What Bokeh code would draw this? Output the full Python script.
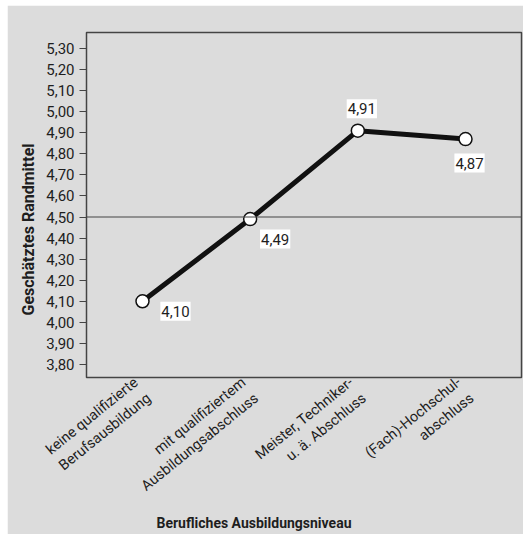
import numpy as np
from bokeh.plotting import figure
from bokeh.models import Range1d, FixedTicker, Span, Label, Title, CustomJSTickFormatter
from bokeh.embed import file_html
from bokeh.resources import INLINE

# ---- data ----
categories = [
    "keine qualifizierte\nBerufsausbildung",
    "mit qualifiziertem\nAusbildungsabschluss",
    "Meister, Techniker-\nu. ä. Abschluss",
    "(Fach)-Hochschul-\nabschluss",
]
values = [4.10, 4.49, 4.91, 4.87]
y_ticks = [3.80, 3.90, 4.00, 4.10, 4.20, 4.30, 4.40, 4.50, 4.60, 4.70,
           4.80, 4.90, 5.00, 5.10, 5.20, 5.30]
reference_value = 4.50
x_title = "Berufliches Ausbildungsniveau"
y_title = "Geschätztes Randmittel"

# ---- style ----
FONT = "Roboto"
BG = "#dcdcdc"
FRAME = "#444444"
TXT = "#1e1e1e"
label_dx = [33, 25, 4, 4]
label_dy = [-10, -20, 22, -24]

W, H = 516, 529
x_pos = list(range(1, len(categories) + 1))

p = figure(width=W, height=H, output_backend="svg", toolbar_location=None,
           x_range=Range1d(0.48, 4.52), y_range=Range1d(3.738, 5.376),
           min_border_left=79, min_border_right=2, min_border_top=27,
           min_border_bottom=157, margin=(5, 2, 0, 7))
p.background_fill_color = BG
p.border_fill_color = BG
p.outline_line_color = FRAME
p.outline_line_width = 1.5
p.grid.visible = False

# y axis
p.yaxis.ticker = FixedTicker(ticks=y_ticks)
p.yaxis.formatter = CustomJSTickFormatter(code="return tick.toFixed(2).replace('.', ',');")
p.yaxis.axis_line_color = None
p.yaxis.major_tick_line_color = FRAME
p.yaxis.major_tick_line_width = 1.2
p.yaxis.major_tick_out = 7
p.yaxis.major_tick_in = 0
p.yaxis.minor_tick_line_color = None
p.yaxis.major_label_standoff = 5
p.yaxis.major_label_text_font = FONT
p.yaxis.major_label_text_font_size = "15px"
p.yaxis.major_label_text_color = TXT

# x axis
p.xaxis.ticker = FixedTicker(ticks=x_pos)
p.xaxis.major_label_overrides = {x: c for x, c in zip(x_pos, categories)}
p.xaxis.axis_line_color = None
p.xaxis.major_tick_line_color = None
p.xaxis.minor_tick_line_color = None
p.xaxis.major_tick_out = 0
p.xaxis.major_label_standoff = 11
p.xaxis.major_label_orientation = 0.68
p.xaxis.major_label_text_font = FONT
p.xaxis.major_label_text_font_size = "14.5px"
p.xaxis.major_label_text_color = TXT

# reference line
p.add_layout(Span(location=reference_value, dimension="width",
                  line_color=FRAME, line_width=1.2))

# series
p.line(x_pos, values, line_color="#111111", line_width=5)
p.scatter(x_pos, values, size=13, fill_color="white", line_color="#111111",
          line_width=1.5)

for x, v, dx, dy in zip(x_pos, values, label_dx, label_dy):
    p.add_layout(Label(x=x, y=v, text=f"{v:.2f}".replace(".", ","),
                       x_offset=dx, y_offset=dy, text_align="center",
                       text_baseline="middle", text_font=FONT,
                       text_font_size="15px", text_color=TXT,
                       background_fill_color="white", padding=(1, 4)))

# axis titles
p.add_layout(Title(text=y_title, align="left", offset=62, standoff=12,
                   text_font=FONT, text_font_style="bold",
                   text_font_size="16px", text_color=TXT), "left")
p.add_layout(Title(text=x_title, align="left", offset=70, standoff=0,
                   text_font=FONT, text_font_style="bold",
                   text_font_size="14px", text_color=TXT), "below")

open("out.html", "w").write(file_html(p, INLINE))
